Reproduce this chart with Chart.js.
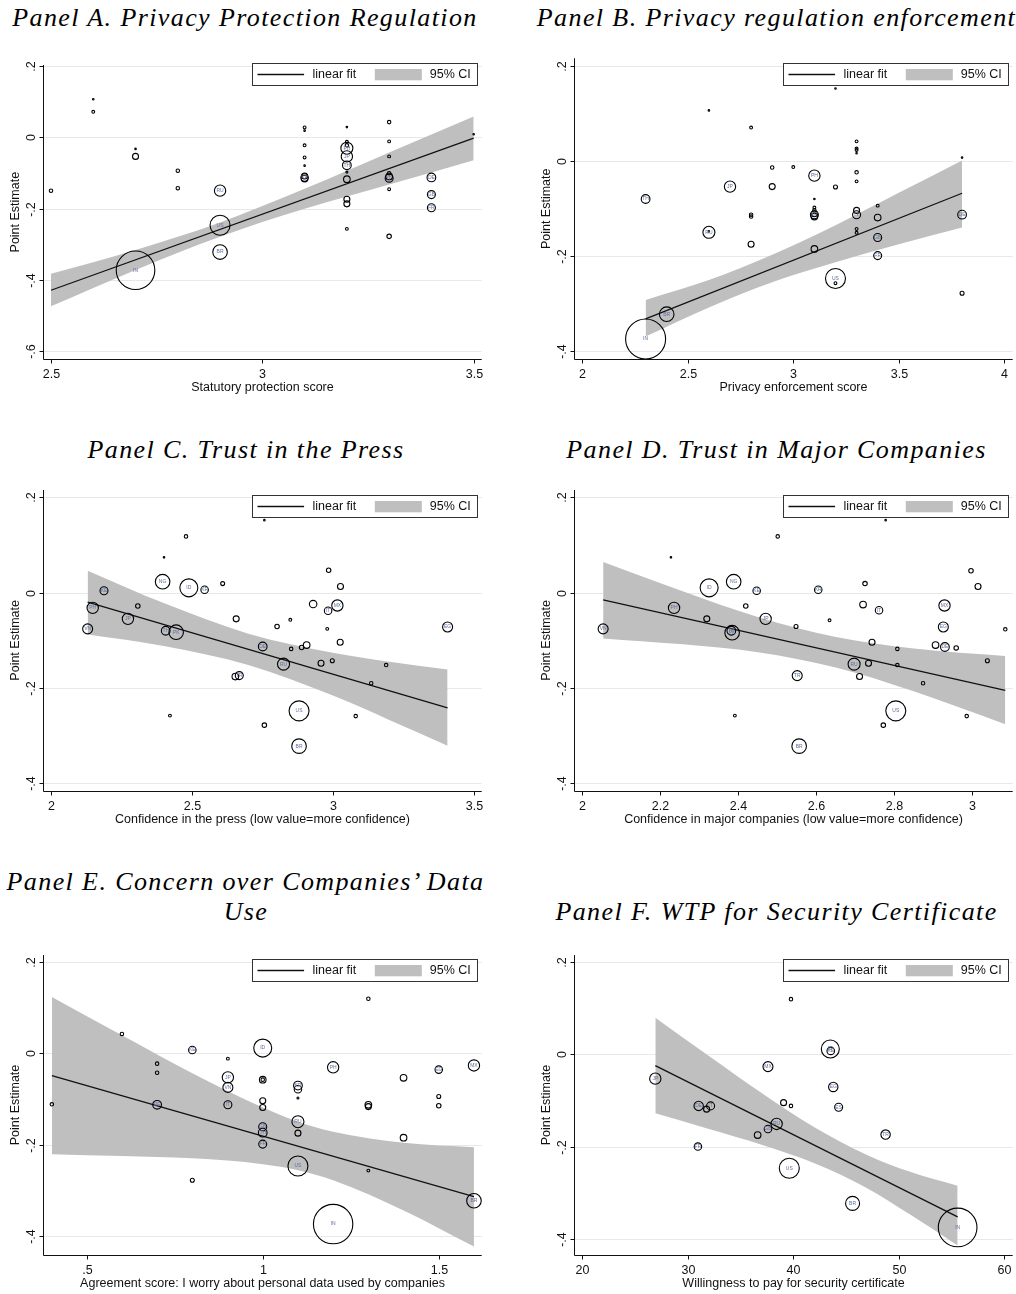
<!DOCTYPE html>
<html>
<head>
<meta charset="utf-8">
<script src="https://cdn.jsdelivr.net/npm/chart.js@4.4.1/dist/chart.umd.min.js"></script>
<style>
  html, body { margin: 0; padding: 0; background: #fff; }
  body { width: 1016px; height: 1294px; position: relative; overflow: hidden; }
  canvas { position: absolute; }
  .ttl {
    position: absolute; white-space: nowrap; color: #000;
    font-family: 'Liberation Serif', serif; font-style: italic;
    font-size: 26px; line-height: 1; letter-spacing: 1.4px;
    transform: translate(-50%, -50%);
  }
</style>
</head>
<body>
<script>
// ---- Data ----

// shared y ticks
const yTicksA = [0.2, 0, -0.2, -0.4, -0.6];
const yTickLabelsA = ['.2', '0', '-.2', '-.4', '-.6'];
const yTicks = [0.2, 0, -0.2, -0.4];
const yTickLabels = ['.2', '0', '-.2', '-.4'];

// Panel A: statutory protection score
const aX = [2.5, 2.6, 2.6, 2.7, 2.7, 2.7, 2.8, 2.8, 2.9, 2.9, 2.9,
  3.1, 3.1, 3.1, 3.1, 3.1, 3.1, 3.1, 3.1,
  3.2, 3.2, 3.2, 3.2, 3.2, 3.2, 3.2, 3.2, 3.2, 3.2, 3.2,
  3.3, 3.3, 3.3, 3.3, 3.3, 3.3, 3.3, 3.3,
  3.4, 3.4, 3.4, 3.5];
const aY = [-0.150, 0.106, 0.071, -0.033, -0.054, -0.373, -0.094, -0.143, -0.150, -0.247, -0.322,
  0.027, 0.018, -0.023, -0.057, -0.080, -0.109, -0.113, -0.116,
  0.028, -0.013, -0.023, -0.031, -0.054, -0.079, -0.098, -0.118, -0.174, -0.187, -0.257,
  0.042, -0.012, -0.054, -0.101, -0.110, -0.115, -0.146, -0.278,
  -0.113, -0.161, -0.198, 0.008];
const aW = [3, 0.6, 2, 0.6, 9, 372, 3, 3, 32, 100, 53,
  2, 0.6, 2, 2, 0.6, 9, 14, 11,
  0.6, 2, 3, 36, 32, 19, 1, 11, 9, 9, 2,
  3, 2, 2, 3, 11, 16, 2, 5,
  19, 16, 16, 0.6];
const aCode = ['', '', '', '', '', 'IN', '', '', 'RU', 'US', 'BR',
  '', '', '', '', '', '', 'KR', '',
  '', '', '', 'PH', 'JP', 'TH', '', '', '', '', '',
  '', '', '', '', '', 'IT', '', '',
  'DE', 'GB', 'FR', ''];
const aFitX = [2.5, 3.5];
const aFitY = [-0.429, -0.003];
const aBandX = [2.5, 2.7, 2.9, 3.1, 3.3, 3.5];
const aBandHi = [-0.383, -0.316, -0.239, -0.145, -0.043, 0.058];
const aBandLo = [-0.474, -0.372, -0.279, -0.201, -0.133, -0.065];
const aXTicks = [2.5, 3, 3.5];
const aXTickLabels = ['2.5', '3', '3.5'];

// Panel B: privacy enforcement score
const bX = [2.3, 2.3, 2.4, 2.6, 2.6, 2.6, 2.7, 2.8, 2.8, 2.8, 2.8, 2.9, 2.9, 3.0,
  3.1, 3.1, 3.1, 3.1, 3.1, 3.1, 3.1, 3.1,
  3.2, 3.2, 3.2, 3.2,
  3.3, 3.3, 3.3, 3.3, 3.3, 3.3, 3.3, 3.3, 3.3, 3.3,
  3.4, 3.4, 3.4, 3.4, 3.8, 3.8, 3.8];
const bY = [-0.080, -0.374, -0.322, 0.106, -0.150, -0.148, -0.054, 0.070, -0.113, -0.117, -0.175, -0.014, -0.054, -0.013,
  -0.031, -0.080, -0.098, -0.104, -0.111, -0.113, -0.117, -0.185,
  0.152, -0.055, -0.247, -0.257,
  0.041, 0.026, 0.023, 0.016, -0.024, -0.043, -0.104, -0.113, -0.143, -0.151,
  -0.094, -0.119, -0.161, -0.199, 0.007, -0.113, -0.278];
const bW = [19, 400, 53, 0.6, 36, 0.6, 32, 2, 3, 3, 9, 3, 9, 2,
  32, 0.6, 2, 3, 9, 16, 11, 11,
  0.6, 4, 100, 2,
  2, 2, 2, 0.6, 3, 2, 9, 16, 2, 2,
  2, 11, 16, 16, 0.6, 19, 4];
const bCode = ['TH', 'IN', 'BR', '', 'RU', '', 'JP', '', '', '', '', '', '', '',
  'PH', '', '', '', '', 'KR', '', '',
  '', '', 'US', '',
  '', '', '', '', '', '', '', 'IT', '', '',
  '', '', 'GB', 'FR', '', 'DE', ''];
const bFitX = [2.3, 3.8];
const bFitY = [-0.332, -0.068];
const bBandX = [2.3, 2.6, 2.9, 3.2, 3.5, 3.8];
const bBandHi = [-0.292, -0.250, -0.197, -0.135, -0.067, 0.001];
const bBandLo = [-0.369, -0.308, -0.255, -0.213, -0.175, -0.140];
const bXTicks = [2, 2.5, 3, 3.5, 4];
const bXTickLabels = ['2', '2.5', '3', '3.5', '4'];

// Panel C: confidence in the press
const cX = [2.130, 2.148, 2.188, 2.273, 2.308, 2.396, 2.401, 2.407, 2.444, 2.422,
  2.479, 2.489, 2.545, 2.609, 2.657, 2.654, 2.668, 2.751, 2.757, 2.757,
  2.802, 2.825, 2.849, 2.852, 2.880, 2.880, 2.889, 2.907, 2.930, 2.958,
  2.983, 2.980, 2.985, 2.998, 3.016, 3.027, 3.026, 3.081, 3.136, 3.189, 3.407];
const cY = [-0.076, -0.032, 0.004, -0.055, -0.028, 0.023, 0.074, -0.080, -0.083, -0.258,
  0.118, 0.010, 0.006, 0.019, -0.055, -0.176, -0.174, -0.113, -0.278, 0.152,
  -0.071, -0.150, -0.057, -0.118, -0.248, -0.322, -0.115, -0.110, -0.024, -0.148,
  -0.038, -0.076, 0.047, -0.143, -0.027, 0.013, -0.104, -0.259, -0.190, -0.152, -0.072];
const cW = [25, 32, 16, 32, 5, 53, 0.6, 19, 53, 2,
  3, 81, 14, 4, 9, 11, 16, 19, 5, 0.6,
  5, 36, 2, 3, 100, 53, 5, 11, 14, 9,
  14, 2, 5, 4, 32, 9, 9, 3, 3, 3, 25];
const cCode = ['VN', 'PH', 'KE', 'JP', '', 'NG', '', 'TH', 'PK', '',
  '', 'ID', 'KR', '', '', '', 'TR', 'DE', '', '',
  '', 'RU', '', '', 'US', 'BR', '', '', '', '',
  'IT', '', '', '', 'MX', '', '', '', '', '', 'EG'];
const cFitX = [2.130, 3.407];
const cFitY = [-0.020, -0.242];
const cBandX = [2.13, 2.4, 2.7, 3.0, 3.2, 3.407];
const cBandHi = [0.046, -0.022, -0.086, -0.126, -0.145, -0.161];
const cBandLo = [-0.088, -0.112, -0.152, -0.216, -0.267, -0.321];
const cXTicks = [2, 2.5, 3, 3.5];
const cXTickLabels = ['2', '2.5', '3', '3.5'];

// Panel D: confidence in major companies
const dX = [2.053, 2.227, 2.235, 2.319, 2.325, 2.388, 2.382, 2.384, 2.391, 2.419,
  2.447, 2.470, 2.501, 2.548, 2.551, 2.556, 2.605, 2.634, 2.697, 2.711,
  2.720, 2.725, 2.734, 2.743, 2.761, 2.772, 2.778, 2.804, 2.808, 2.808,
  2.874, 2.906, 2.926, 2.929, 2.930, 2.959, 2.986, 2.997, 3.015, 3.039, 3.085];
const dY = [-0.076, 0.074, -0.032, -0.055, 0.010, 0.023, -0.080, -0.084, -0.258, -0.028,
  0.004, -0.055, 0.118, -0.071, -0.174, -0.322, 0.006, -0.058, -0.150, -0.176,
  -0.025, 0.019, -0.148, -0.104, -0.037, -0.278, 0.152, -0.248, -0.118, -0.152,
  -0.190, -0.110, -0.072, -0.027, -0.114, -0.116, -0.259, 0.046, 0.013, -0.143, -0.077];
const dW = [25, 0.6, 32, 9, 81, 53, 19, 53, 2, 5,
  14, 32, 3, 4, 25, 53, 14, 2, 36, 9,
  11, 5, 9, 9, 14, 5, 0.6, 100, 3, 3,
  3, 11, 25, 32, 19, 5, 3, 5, 9, 4, 3];
const dCode = ['VN', '', 'PH', '', 'ID', 'NG', 'TH', 'PK', '', '',
  'KE', 'JP', '', '', 'TR', 'BR', 'KR', '', 'RU', '',
  '', '', '', '', 'IT', '', '', 'US', '', '',
  '', '', 'EG', 'MX', 'DE', '', '', '', '', '', ''];
const dFitX = [2.053, 3.085];
const dFitY = [-0.015, -0.205];
const dBandX = [2.053, 2.25, 2.45, 2.65, 2.85, 3.085];
const dBandHi = [0.064, 0.005, -0.051, -0.093, -0.117, -0.133];
const dBandLo = [-0.096, -0.108, -0.125, -0.157, -0.207, -0.276];
const dXTicks = [2, 2.2, 2.4, 2.6, 2.8, 3];
const dXTickLabels = ['2', '2.2', '2.4', '2.6', '2.8', '3'];

// Panel E: worry about personal data
const eX = [0.401, 0.600, 0.700, 0.700, 0.700, 0.800, 0.800, 0.901, 0.901, 0.901, 0.901,
  1.0, 1.0, 1.0, 1.0, 1.0, 1.0, 1.0, 1.0,
  1.1, 1.1, 1.1, 1.1, 1.1, 1.1, 1.2, 1.2,
  1.3, 1.3, 1.3, 1.3, 1.4, 1.4, 1.5, 1.5, 1.5, 1.6, 1.6];
const eY = [-0.112, 0.042, -0.023, -0.043, -0.113, 0.007, -0.278, -0.012, -0.053, -0.075, -0.113,
  0.011, -0.058, -0.058, -0.104, -0.119, -0.161, -0.174, -0.199,
  -0.071, -0.079, -0.098, -0.150, -0.175, -0.247, -0.031, -0.374,
  0.119, -0.113, -0.117, -0.257, -0.054, -0.185, -0.036, -0.095, -0.115, -0.027, -0.323];
const eW = [3, 3, 3, 3, 19, 14, 4, 2, 32, 25, 16,
  81, 11, 3, 9, 9, 16, 19, 16,
  19, 14, 1, 36, 9, 100, 32, 388,
  3, 11, 9, 2, 11, 11, 14, 4, 5, 32, 53];
const eCode = ['', '', '', '', 'DE', 'KE', '', '', 'JP', 'VN', 'IT',
  'ID', '', '', '', '', 'GB', 'TH', 'FR',
  'KR', '', '', 'RU', '', 'US', 'PH', 'IN',
  '', '', '', '', '', '', 'EG', '', '', 'MX', 'BR'];
const eFitX = [0.401, 1.600];
const eFitY = [-0.049, -0.314];
const eBandX = [0.401, 0.6, 0.8, 0.9, 1.0, 1.1, 1.2, 1.4, 1.6];
const eBandHi = [0.123, 0.039, -0.044, -0.083, -0.119, -0.150, -0.172, -0.196, -0.206];
const eBandLo = [-0.221, -0.225, -0.230, -0.235, -0.243, -0.256, -0.278, -0.344, -0.423];
const eXTicks = [0.5, 1, 1.5];
const eXTickLabels = ['.5', '1', '1.5'];

// Panel F: willingness to pay for security certificate
const fX = [26.92, 31.03, 31.78, 32.16, 30.96, 36.62, 37.60, 37.60, 38.42, 39.08,
  39.78, 39.78, 39.62, 43.51, 43.55, 43.79, 44.30, 45.62, 48.75, 55.58];
const fY = [-0.053, -0.112, -0.119, -0.112, -0.200, -0.175, -0.027, -0.162, -0.151, -0.105,
  -0.112, 0.119, -0.247, 0.011, 0.007, -0.071, -0.115, -0.323, -0.174, -0.375];
const fW = [32, 22, 9, 16, 14, 11, 25, 14, 32, 9,
  3, 3, 100, 81, 14, 22, 16, 49, 22, 374];
const fCode = ['JP', 'DE', '', 'IT', 'FR', '', 'MX', 'GB', 'RU', '',
  '', '', 'US', 'ID', 'KE', 'EG', 'ES', 'BR', 'TR', 'IN'];
const fFitX = [26.92, 55.58];
const fFitY = [-0.025, -0.352];
const fBandX = [26.92, 32, 37, 42, 47, 51, 55.58];
const fBandHi = [0.079, -0.004, -0.084, -0.158, -0.218, -0.254, -0.285];
const fBandLo = [-0.128, -0.162, -0.196, -0.236, -0.290, -0.346, -0.414];
const fXTicks = [20, 30, 40, 50, 60];
const fXTickLabels = ['20', '30', '40', '50', '60'];

// ---- Panel layout (page pixels) ----
const panels = [
  { id: 'A', x: aX, y: aY, w: aW, code: aCode, fitX: aFitX, fitY: aFitY,
    bandX: aBandX, bandHi: aBandHi, bandLo: aBandLo,
    xTicks: aXTicks, xTickLabels: aXTickLabels, yTicks: yTicksA, yTickLabels: yTickLabelsA,
    xTitle: 'Statutory protection score',
    box: [0, 40, 508, 360], plot: [43.3, 65, 481.7, 359.3],
    xRange: [2.4818, 3.519], yRange: [-0.6224, 0.202], legendTop: 62.7 },
  { id: 'B', x: bX, y: bY, w: bW, code: bCode, fitX: bFitX, fitY: bFitY,
    bandX: bBandX, bandHi: bBandHi, bandLo: bBandLo,
    xTicks: bXTicks, xTickLabels: bXTickLabels, yTicks: yTicks, yTickLabels: yTickLabels,
    xTitle: 'Privacy enforcement score',
    box: [508, 40, 508, 360], plot: [574.3, 58.3, 1012.7, 359.3],
    xRange: [1.962, 4.040], yRange: [-0.4168, 0.2155], legendTop: 62.7 },
  { id: 'C', x: cX, y: cY, w: cW, code: cCode, fitX: cFitX, fitY: cFitY,
    bandX: cBandX, bandHi: cBandHi, bandLo: cBandLo,
    xTicks: cXTicks, xTickLabels: cXTickLabels, yTicks: yTicks, yTickLabels: yTickLabels,
    xTitle: 'Confidence in the press (low value=more confidence)',
    box: [0, 470, 508, 360], plot: [43.3, 490, 481.7, 790.7],
    xRange: [1.9727, 3.528], yRange: [-0.4155, 0.2153], legendTop: 494.7 },
  { id: 'D', x: dX, y: dY, w: dW, code: dCode, fitX: dFitX, fitY: dFitY,
    bandX: dBandX, bandHi: dBandHi, bandLo: dBandLo,
    xTicks: dXTicks, xTickLabels: dXTickLabels, yTicks: yTicks, yTickLabels: yTickLabels,
    xTitle: 'Confidence in major companies (low value=more confidence)',
    box: [508, 470, 508, 360], plot: [574.3, 490, 1012.7, 790.7],
    xRange: [1.979, 3.104], yRange: [-0.4155, 0.2153], legendTop: 494.7 },
  { id: 'E', x: eX, y: eY, w: eW, code: eCode, fitX: eFitX, fitY: eFitY,
    bandX: eBandX, bandHi: eBandHi, bandLo: eBandLo,
    xTicks: eXTicks, xTickLabels: eXTickLabels, yTicks: yTicks, yTickLabels: yTickLabels,
    xTitle: 'Agreement score: I worry about personal data used by companies',
    box: [0, 930, 508, 364], plot: [43.3, 955, 481.7, 1255],
    xRange: [0.3767, 1.622], yRange: [-0.4416, 0.2147], legendTop: 958.7 },
  { id: 'F', x: fX, y: fY, w: fW, code: fCode, fitX: fFitX, fitY: fFitY,
    bandX: fBandX, bandHi: fBandHi, bandLo: fBandLo,
    xTicks: fXTicks, xTickLabels: fXTickLabels, yTicks: yTicks, yTickLabels: yTickLabels,
    xTitle: 'Willingness to pay for security certificate',
    box: [508, 930, 508, 364], plot: [574.3, 955, 1012.7, 1255],
    xRange: [19.24, 60.8], yRange: [-0.4346, 0.2145], legendTop: 958.7 }
];

const titles = [
  ['Panel A. Privacy Protection Regulation', 245, 18],
  ['Panel B. Privacy regulation enforcement', 776.5, 18],
  ['Panel C. Trust in the Press', 246, 450],
  ['Panel D. Trust in Major Companies', 776.5, 450],
  ['Panel E. Concern over Companies\u2019 Data', 245.5, 882],
  ['Use', 246, 912],
  ['Panel F. WTP for Security Certificate', 776.5, 912]
];

const SANS = '"Liberation Sans", Arial, sans-serif';

// Stata-like frame: grid, axes, ticks, titles, legend, country codes
function stataFrame(p) {
  return {
    id: 'stataFrame' + p.id,
    beforeDatasetsDraw(chart) {
      const { ctx, chartArea: a, scales: { y } } = chart;
      ctx.save();
      ctx.strokeStyle = '#e8e8e8';
      ctx.lineWidth = 1;
      p.yTicks.forEach(v => {
        const py = Math.round(y.getPixelForValue(v)) + 0.5;
        ctx.beginPath(); ctx.moveTo(a.left, py); ctx.lineTo(a.right, py); ctx.stroke();
      });
      ctx.restore();
    },
    afterDatasetsDraw(chart) {
      const { ctx, scales: { x, y } } = chart;
      ctx.save();
      ctx.font = '5px ' + SANS;
      ctx.fillStyle = '#5d6f9f';
      ctx.textAlign = 'center';
      ctx.textBaseline = 'middle';
      p.code.forEach((c, i) => {
        if (c) ctx.fillText(c, x.getPixelForValue(p.x[i]), y.getPixelForValue(p.y[i]));
      });
      ctx.restore();
    },
    afterDraw(chart) {
      const { ctx, chartArea: a, scales: { x, y } } = chart;
      const L = Math.round(a.left) + 0.5;
      const B = Math.round(a.bottom) + 0.5;
      ctx.save();
      ctx.strokeStyle = '#111';
      ctx.lineWidth = 1;
      ctx.beginPath(); ctx.moveTo(L, a.top); ctx.lineTo(L, B); ctx.lineTo(a.right, B); ctx.stroke();

      ctx.font = '12.5px ' + SANS;
      ctx.fillStyle = '#111';
      ctx.textAlign = 'center';
      ctx.textBaseline = 'middle';
      p.xTicks.forEach((v, i) => {
        const px = Math.round(x.getPixelForValue(v)) + 0.5;
        ctx.beginPath(); ctx.moveTo(px, B); ctx.lineTo(px, B + 4); ctx.stroke();
        ctx.fillText(p.xTickLabels[i], px, B + 15.5);
      });
      p.yTicks.forEach((v, i) => {
        const py = Math.round(y.getPixelForValue(v)) + 0.5;
        ctx.beginPath(); ctx.moveTo(L - 4, py); ctx.lineTo(L, py); ctx.stroke();
        ctx.save();
        ctx.translate(L - 11.6, py);
        ctx.rotate(-Math.PI / 2);
        ctx.fillText(p.yTickLabels[i], 0, 0);
        ctx.restore();
      });
      ctx.fillText(p.xTitle, (a.left + a.right) / 2, B + 28);
      ctx.save();
      ctx.translate(L - 28, (a.top + a.bottom) / 2);
      ctx.rotate(-Math.PI / 2);
      ctx.fillText('Point Estimate', 0, 0);
      ctx.restore();

      // legend box
      const bx = Math.round(a.right - 4.4 - 225.6) + 0.5;
      const by = Math.round(p.legendTop - p.box[1]) + 0.5;
      ctx.fillStyle = '#fff';
      ctx.fillRect(bx, by, 225, 22);
      ctx.strokeStyle = '#333';
      ctx.strokeRect(bx, by, 225, 22);
      ctx.strokeStyle = '#111';
      ctx.lineWidth = 1.3;
      ctx.beginPath(); ctx.moveTo(bx + 5, by + 11); ctx.lineTo(bx + 51.6, by + 11); ctx.stroke();
      ctx.fillStyle = '#bfbfbf';
      ctx.fillRect(bx + 122.3, by + 5.5, 47, 11.3);
      ctx.fillStyle = '#111';
      ctx.textAlign = 'left';
      ctx.fillText('linear fit', bx + 60, by + 11.5);
      ctx.fillText('95% CI', bx + 177.3, by + 11.5);
      ctx.restore();
    }
  };
}

function drawPanel(p) {
  const [bx, by, bw, bh] = p.box;
  const [pl, pt, pr, pb] = p.plot;
  const cv = document.createElement('canvas');
  cv.width = bw; cv.height = bh;
  cv.style.left = bx + 'px'; cv.style.top = by + 'px';
  cv.style.width = bw + 'px'; cv.style.height = bh + 'px';
  document.body.appendChild(cv);

  new Chart(cv, {
    type: 'bubble',
    data: {
      datasets: [
        { type: 'line', data: p.bandX.map((x, i) => ({ x, y: p.bandHi[i] })),
          fill: '+1', backgroundColor: '#bfbfbf', borderColor: 'rgba(0,0,0,0)', borderWidth: 0,
          pointRadius: 0, cubicInterpolationMode: 'monotone', order: 4 },
        { type: 'line', data: p.bandX.map((x, i) => ({ x, y: p.bandLo[i] })),
          fill: false, borderColor: 'rgba(0,0,0,0)', borderWidth: 0,
          pointRadius: 0, cubicInterpolationMode: 'monotone', order: 3 },
        { type: 'line', data: p.fitX.map((x, i) => ({ x, y: p.fitY[i] })),
          fill: false, borderColor: '#111', borderWidth: 1.3, pointRadius: 0, order: 2 },
        { type: 'bubble', data: p.x.map((x, i) => ({ x, y: p.y[i], r: Math.sqrt(p.w[i]) })),
          backgroundColor: 'rgba(0,0,0,0)', borderColor: '#000', borderWidth: 1.1,
          clip: false, order: 1 }
      ]
    },
    options: {
      responsive: false,
      animation: false,
      events: [],
      layout: {
        autoPadding: false,
        padding: { left: pl - bx, top: pt - by, right: bx + bw - pr, bottom: by + bh - pb }
      },
      scales: {
        x: { type: 'linear', min: p.xRange[0], max: p.xRange[1], display: false },
        y: { type: 'linear', min: p.yRange[0], max: p.yRange[1], display: false }
      },
      plugins: { legend: { display: false }, tooltip: { enabled: false } }
    },
    plugins: [stataFrame(p)]
  });
}

panels.forEach(drawPanel);

titles.forEach(([text, cx, cy]) => {
  const d = document.createElement('div');
  d.className = 'ttl';
  d.textContent = text;
  d.style.left = cx + 'px';
  d.style.top = cy + 'px';
  document.body.appendChild(d);
});
</script>
</body>
</html>
